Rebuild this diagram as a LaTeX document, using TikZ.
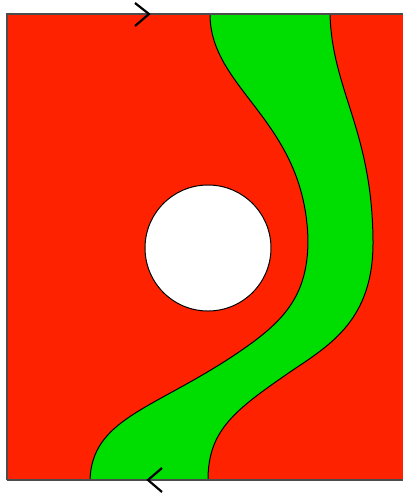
\documentclass[tikz,border=0pt]{standalone}
\usetikzlibrary{arrows.meta}
\definecolor{bandRed}{RGB}{255,34,0}
\definecolor{bandGreen}{RGB}{0,221,0}
\tikzset{
  frameline/.style={draw=black!70, line width=0.9pt},
  seam/.style={draw=black, line width=0.5pt},
  chevron/.style={draw=black, line width=1.1pt}
}
\begin{document}
\begin{tikzpicture}[x=0.5pt, y=-0.5pt]
\useasboundingbox (0,0) rectangle (403,495);
\coordinate (nw) at (7,14);
\coordinate (ne) at (403,14);
\coordinate (sw) at (7,480);
\coordinate (se) at (403,480);
\coordinate (topmark) at (149,14);
\coordinate (botmark) at (148,480);
% square
\fill[bandRed] (nw) rectangle (se);
% green band
\filldraw[seam, fill=bandGreen]
  (210,14) .. controls (210,90) and (305,120) .. (308,240)
  .. controls (308,300) and (280,325) .. (230,358)
  .. controls (150,410) and (92,420) .. (90,480)
  -- (208,480) .. controls (208,430) and (235,410) .. (290,372)
  .. controls (330,345) and (374,320) .. (373,240)
  .. controls (372,130) and (332,90) .. (330,14)
  -- cycle;
% hole
\filldraw[seam, fill=white] (208,248) circle[radius=63];
% edges and gluing marks
\draw[frameline] (sw) -- (nw) -- (ne);
\draw[frameline] (sw) -- (se);
\draw[chevron] (topmark) ++(-14,-11) -- (topmark) -- ++(-14,12);
\draw[chevron] (botmark) ++(14,-12) -- (botmark) -- ++(14,12);
\end{tikzpicture}
\end{document}
